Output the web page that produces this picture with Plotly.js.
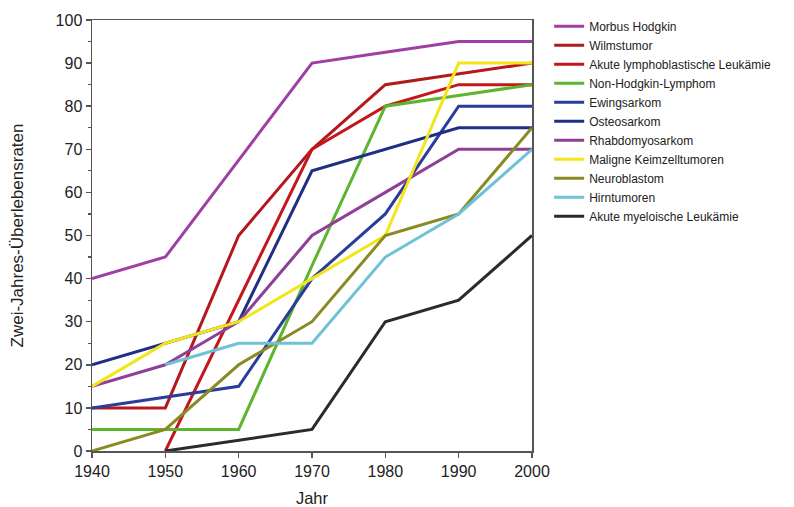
<!DOCTYPE html>
<html>
<head>
<meta charset="utf-8">
<script src="https://cdn.plot.ly/plotly-3.0.1.min.js"></script>
<style>html,body{margin:0;padding:0;background:#fff;}#chart{width:794px;height:507px;}</style>
</head>
<body>
<div id="chart"></div>
<script>
const years = [1940, 1950, 1960, 1970, 1980, 1990, 2000];
const seriesNames = [
  "Morbus Hodgkin", "Wilmstumor", "Akute lymphoblastische Leukämie", "Non-Hodgkin-Lymphom",
  "Ewingsarkom", "Osteosarkom", "Rhabdomyosarkom", "Maligne Keimzelltumoren",
  "Neuroblastom", "Hirntumoren", "Akute myeloische Leukämie"
];
const hodgkin = [40, 45, 67.5, 90, 92.5, 95, 95];
const wilms = [10, 10, 50, 70, 85, 87.5, 90];
const allLeuk = [null, 0, 35, 70, 80, 85, 85];
const nhl = [5, 5, 5, 43, 80, 82.5, 85];
const ewing = [10, 12.5, 15, 40, 55, 80, 80];
const osteo = [20, 25, 30, 65, 70, 75, 75];
const rhabdo = [15, 20, 30, 50, 60, 70, 70];
const keimzell = [15, 25, 30, 40, 50, 90, 90];
const neuro = [0, 5, 20, 30, 50, 55, 75];
const hirn = [null, 20, 25, 25, 45, 55, 70];
const aml = [null, 0, 2.5, 5, 30, 35, 50];
const seriesValues = [hodgkin, wilms, allLeuk, nhl, ewing, osteo, rhabdo, keimzell, neuro, hirn, aml];
const colors = ["#a03fa3", "#b3191c", "#c4161c", "#5db42d", "#2b3d9a", "#1f2f86", "#8f3f98", "#f2e61a", "#8a8a22", "#6ec2d6", "#2b2b2b"];

const traces = seriesNames.map((n, i) => ({
  x: years, y: seriesValues[i], name: n, type: "scatter", mode: "lines",
  line: {color: colors[i], width: 3}, connectgaps: false
}));

const font = "Liberation Sans, Arial, sans-serif";
const layout = {
  width: 794, height: 507,
  margin: {l: 92, r: 262, t: 20, b: 56, autoexpand: false},
  paper_bgcolor: "#fff", plot_bgcolor: "#fff",
  font: {family: font, color: "#222", size: 16},
  showlegend: true,
  legend: {x: 1.039, xanchor: "left", y: 1.019, yanchor: "top", font: {family: font, size: 12, color: "#222"},
           bgcolor: "rgba(0,0,0,0)", tracegroupgap: 0, itemwidth: 30},
  xaxis: {
    range: [1940, 2000], tickmode: "linear", tick0: 1940, dtick: 10,
    showgrid: false, zeroline: false, showline: true, linecolor: "#555", linewidth: 1.5, mirror: true,
    ticks: "outside", ticklen: 5, tickcolor: "#555", tickwidth: 1.5,
    tickfont: {family: font, size: 16, color: "#222"},
    title: {text: "Jahr", font: {family: font, size: 16.5, color: "#222"}, standoff: 17}
  },
  yaxis: {
    range: [0, 100], tickmode: "linear", tick0: 0, dtick: 10,
    showgrid: false, zeroline: false, showline: true, linecolor: "#555", linewidth: 1.5, mirror: true,
    ticks: "outside", ticklen: 5, tickcolor: "#555", tickwidth: 1.5,
    minor: {dtick: 5, ticks: "outside", ticklen: 3, tickcolor: "#555", tickwidth: 1.2, showgrid: false},
    tickfont: {family: font, size: 16, color: "#222"},
    title: {text: "Zwei-Jahres-Überlebensraten", font: {family: font, size: 17, color: "#222"}, standoff: 27}
  }
};
Plotly.newPlot("chart", traces, layout, {displayModeBar: false, staticPlot: true});
</script>
</body>
</html>
